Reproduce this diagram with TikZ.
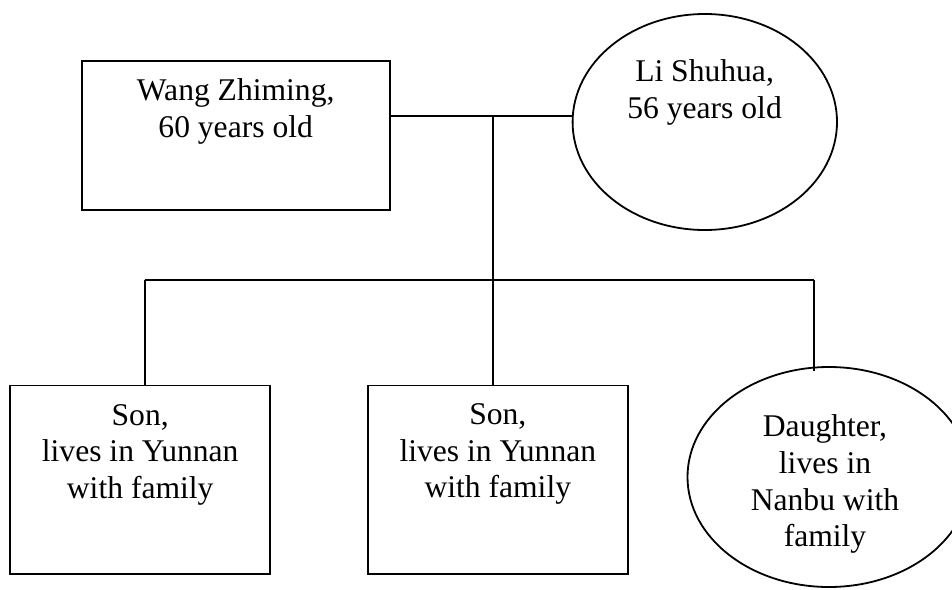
\documentclass[tikz,border=0pt]{standalone}
\usepackage{fontspec}
\setmainfont{Liberation Serif}
\usetikzlibrary{shapes.geometric}

\tikzset{
  person/.style={draw=black, line width=1.8pt, inner sep=0pt, fill=white},
  malebox/.style={person, rectangle},
  femaleoval/.style={person, ellipse},
  link/.style={draw=black, line width=1.8pt},
  caption/.style={anchor=base, inner sep=0pt, text=black}
}

% one centred text block whose reference point is the first baseline
\newcommand{\famtext}[1]{\parbox[t]{300pt}{\centering\fontsize{31.6pt}{36.7pt}\selectfont #1}}

\begin{document}
\begin{tikzpicture}[x=1pt, y=-1pt]
  \useasboundingbox (0,0) rectangle (952,589);
  \clip (0,0) rectangle (952,589);
  \fill[white] (0,0) rectangle (952,589);

  % parents
  \node[malebox, minimum width=308pt, minimum height=149pt] (wang) at (235.7,135.5) {};
  \node[femaleoval, minimum width=264.4pt, minimum height=216pt] (li) at (704.8,122) {};

  % children
  \node[malebox, minimum width=260.3pt, minimum height=188.2pt] (sonA) at (140.2,479.6) {};
  \node[malebox, minimum width=260.3pt, minimum height=188.2pt] (sonB) at (498.2,479.6) {};
  \node[femaleoval, minimum width=283pt, minimum height=220pt] (dau) at (829,477) {};

  % junction points of the family lines
  \coordinate (marry) at (493.3,116.3);
  \coordinate (hub) at (493.3,280);
  \coordinate (barL) at (144.7,280);
  \coordinate (barR) at (813.7,280);

  % marriage line and descent line
  \draw[link] (wang.east |- marry) -- (li.west |- marry);
  \draw[link] (marry) -- (hub);
  \draw[link] (barL) -- (barR);
  \draw[link] (barL) -- (barL |- sonA.north);
  \draw[link] (hub) -- (hub |- sonB.north);
  \draw[link] (barR) -- ([yshift=-4.5pt]barR |- dau.north);

  % texts
  \node[caption] (wangtxt) at (235.7,100.7) {\famtext{Wang Zhiming,\\60 years old}};
  \node[caption] (litxt) at (704.6,81.7) {\famtext{Li Shuhua,\\56 years old}};
  \node[caption] (sonAtxt) at (140.2,425) {\famtext{Son,\\lives in Yunnan\\with family}};
  \node[caption] (sonBtxt) at (497.8,424.3) {\famtext{Son,\\lives in Yunnan\\with family}};
  \node[caption] (dautxt) at (825,436.7) {\famtext{Daughter,\\lives in\\Nanbu with\\family}};
\end{tikzpicture}
\end{document}
